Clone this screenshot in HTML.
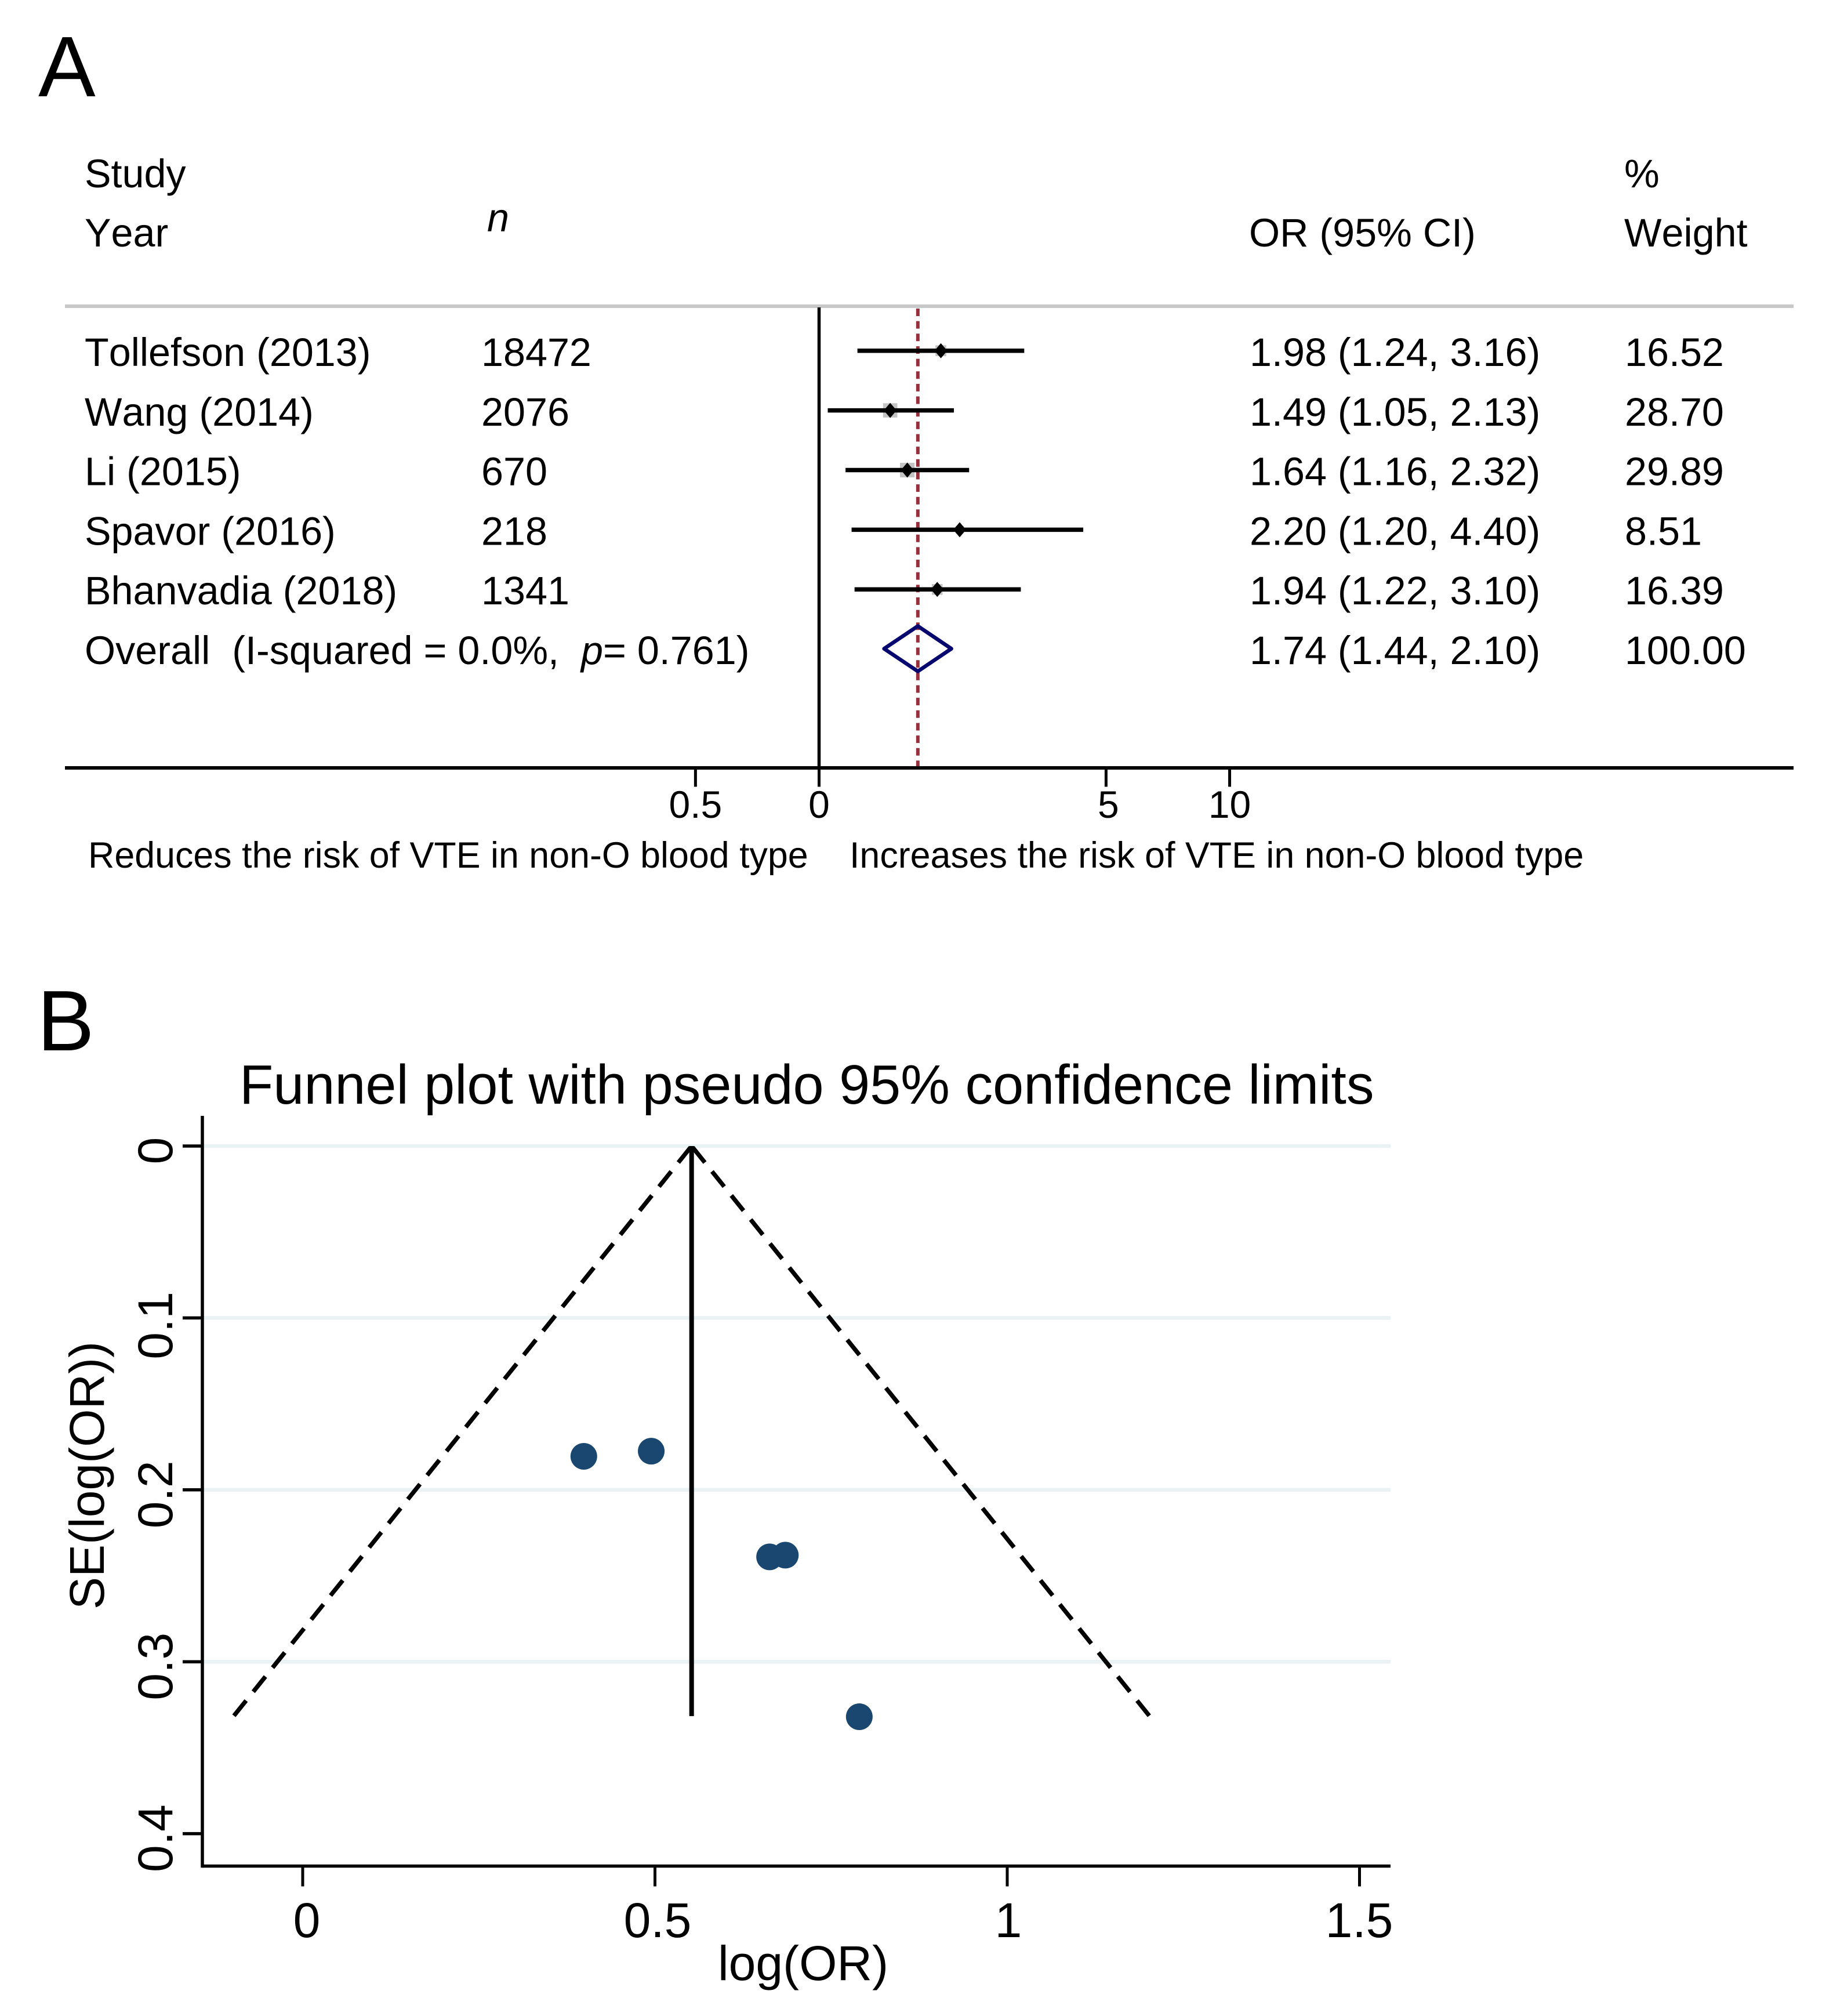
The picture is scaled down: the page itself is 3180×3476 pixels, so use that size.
<!DOCTYPE html>
<html lang="en">
<head>
<meta charset="utf-8">
<title>Forest and funnel plots</title>
<style>
  html, body { margin: 0; padding: 0; background: #ffffff; }
  svg { display: block; }
  text { font-family: "Liberation Sans", Arial, sans-serif; fill: #000000; white-space: pre; font-kerning: none; }
  .f68 { font-size: 68.3px; }
  .f62 { font-size: 62.75px; }
  .f66 { font-size: 66px; }
  .panel { font-size: 148px; }
  .big { font-size: 84px; }
</style>
</head>
<body>
<svg id="figure" xmlns="http://www.w3.org/2000/svg" width="3180" height="3476" viewBox="0 0 3180 3476">
  <rect x="0" y="0" width="3180" height="3476" fill="#ffffff"/>

  <text class="panel" x="66" y="166">A</text>
  <text class="panel" x="64" y="1811">B</text>

  <!-- Forest plot static furniture -->
  <text class="f68" x="146" y="323">Study</text>
  <text class="f68" x="146" y="425">Year</text>
  <text class="f68" x="840" y="399" font-style="italic">n</text>
  <text class="f68" x="2154" y="425">OR (95% CI)</text>
  <text class="f68" x="2801" y="323">%</text>
  <text class="f68" x="2801" y="425">Weight</text>
  <rect x="112" y="525" width="2981" height="6" fill="#c8c8c8"/>
  <text class="f68" x="146" y="1145">Overall  (I-squared = 0.0%,  <tspan font-style="italic">p</tspan>= 0.761)</text>
  <text class="f62" x="152" y="1496">Reduces the risk of VTE in non-O blood type</text>
  <text class="f62" x="1465" y="1496">Increases the risk of VTE in non-O blood type</text>

  <g id="forest"></g>

  <!-- Funnel plot static furniture -->
  <text x="413" y="1903" font-size="95.4">Funnel plot with pseudo 95% confidence limits</text>
  <text class="big" x="1238" y="3414">log(OR)</text>
  <text class="big" transform="translate(179,2775) rotate(-90)">SE(log(OR))</text>

  <g id="funnel"></g>
</svg>

<script>
// ---- Forest plot data ----
const studies = ["Tollefson (2013)", "Wang (2014)", "Li (2015)", "Spavor (2016)", "Bhanvadia (2018)"];
const sampleSizes = [18472, 2076, 670, 218, 1341];
const oddsRatios = [1.98, 1.49, 1.64, 2.20, 1.94];
const ciLower = [1.24, 1.05, 1.16, 1.20, 1.22];
const ciUpper = [3.16, 2.13, 2.32, 4.40, 3.10];
const weights = ["16.52", "28.70", "29.89", "8.51", "16.39"];
const overallOR = 1.74;
const overallLower = 1.44;
const overallUpper = 2.10;
const overallWeight = "100.00";
const forestTicks = [0.5, 1, 5, 10];
const forestTickLabels = ["0.5", "0", "5", "10"];

// ---- Funnel plot data ----
const funnelLogOR = [0.399, 0.4947, 0.6627, 0.685, 0.79];
const funnelSE = [0.1805, 0.1775, 0.239, 0.238, 0.332];
const pooledLogOR = 0.552;
const maxSE = 0.3316;
const zCritical = 1.96;
const funnelXTicks = [0, 0.5, 1, 1.5];
const funnelXTickLabels = ["0", "0.5", "1", "1.5"];
const funnelYTicks = [0, 0.1, 0.2, 0.3, 0.4];
const funnelYTickLabels = ["0", "0.1", "0.2", "0.3", "0.4"];

const SVGNS = "http://www.w3.org/2000/svg";
function make(parent, tag, attrs, content) {
  const el = document.createElementNS(SVGNS, tag);
  for (const k in attrs) el.setAttribute(k, attrs[k]);
  if (content !== undefined) el.textContent = content;
  parent.appendChild(el);
  return el;
}

// ---- Forest plot ----
const forest = document.getElementById("forest");
const forestX = v => 1412.5 + 307.5 * Math.log(v);
const rowY = i => 604.7 + 102.9 * i;
const rowBaseline = i => 631 + 102.8 * i;
const forestAxisY = 1324;

const refLine = make(forest, "line", { x1: forestX(overallOR), x2: forestX(overallOR), y1: 532, y2: forestAxisY, stroke: "#96303c", "stroke-width": 6, "stroke-dasharray": "13 8.65" });



const nullLine = make(forest, "line", { x1: forestX(1), x2: forestX(1), y1: 530, y2: forestAxisY, stroke: "#000000", "stroke-width": 5.5 });



const forestAxis = make(forest, "line", { x1: 112, x2: 3093, y1: forestAxisY, y2: forestAxisY, stroke: "#000000", "stroke-width": 6 });



forestTicks.forEach((t, i) => {
  const tick = make(forest, "line", { x1: forestX(t), x2: forestX(t), y1: forestAxisY, y2: 1356.5, stroke: "#000000", "stroke-width": 5 });
  
  
  const label = make(forest, "text", { x: forestX(t) + (t === 5 ? 4 : 0), y: 1410, "text-anchor": "middle", class: "f66" }, forestTickLabels[i]);
  
  
});

studies.forEach((name, i) => {
  const base = rowBaseline(i);
  const y = rowY(i);
  const nameText = make(forest, "text", { x: 146, y: base, class: "f68" }, name);
  
  
  const nText = make(forest, "text", { x: 830, y: base, class: "f68" }, String(sampleSizes[i]));
  
  
  const orText = make(forest, "text", { x: 2155, y: base, class: "f68" },
    oddsRatios[i].toFixed(2) + " (" + ciLower[i].toFixed(2) + ", " + ciUpper[i].toFixed(2) + ")");
  
  
  const wText = make(forest, "text", { x: 2802, y: base, class: "f68" }, weights[i]);
  
  

  const box = 4.6 * Math.sqrt(parseFloat(weights[i]));
  const boxEl = make(forest, "rect", { x: forestX(oddsRatios[i]) - box / 2, y: y - box / 2, width: box, height: box, fill: "#c4c4c4" });
  
  

  const ci = make(forest, "line", { x1: forestX(ciLower[i]), x2: forestX(ciUpper[i]), y1: y, y2: y, stroke: "#000000", "stroke-width": 7.5 });
  
  

  const px = forestX(oddsRatios[i]);
  const pt = make(forest, "polygon", { points: (px - 11) + "," + y + " " + px + "," + (y - 13) + " " + (px + 11) + "," + y + " " + px + "," + (y + 13), fill: "#000000" });
  
  
});

const overallOrText = make(forest, "text", { x: 2155, y: rowBaseline(5), class: "f68" },
  overallOR.toFixed(2) + " (" + overallLower.toFixed(2) + ", " + overallUpper.toFixed(2) + ")");


const overallWeightText = make(forest, "text", { x: 2802, y: rowBaseline(5), class: "f68" }, overallWeight);



const diamondY = 1118.5;
const diamond = make(forest, "polygon", {
  points: forestX(overallLower) + "," + diamondY + " " + forestX(overallOR) + "," + (diamondY - 39) + " " +
          forestX(overallUpper) + "," + diamondY + " " + forestX(overallOR) + "," + (diamondY + 39),
  fill: "none", stroke: "#06066f", "stroke-width": 6.5, "stroke-linejoin": "round"
});



// ---- Funnel plot ----
const funnel = document.getElementById("funnel");
const funnelX = v => 522 + 1215 * v;
const funnelXLabel = v => 529 + 1210 * v;
const funnelY = v => 1976 + 2964 * v;
const plotLeft = 349;
const plotRight = 2398;
const plotTop = 1924;
const plotBottom = 3217.5;

funnelYTicks.forEach((t, i) => {
  if (t <= 0.3) {
    const grid = make(funnel, "line", { x1: plotLeft, x2: plotRight, y1: funnelY(t), y2: funnelY(t), stroke: "#eaf2f3", "stroke-width": 6.5 });
    
    
  }
  const tick = make(funnel, "line", { x1: 315, x2: plotLeft, y1: funnelY(t), y2: funnelY(t), stroke: "#000000", "stroke-width": 5.5 });
  
  
  const ly = funnelY(t) + (t === 0.1 ? 13 : 8);
  const label = make(funnel, "text", { transform: "translate(297," + ly + ") rotate(-90)", "text-anchor": "middle", class: "big" }, funnelYTickLabels[i]);
  
  
});

const yAxis = make(funnel, "line", { x1: plotLeft, x2: plotLeft, y1: plotTop, y2: plotBottom + 2.75, stroke: "#000000", "stroke-width": 5.5 });


const xAxis = make(funnel, "line", { x1: plotLeft, x2: plotRight, y1: plotBottom, y2: plotBottom, stroke: "#000000", "stroke-width": 5.5 });



funnelXTicks.forEach((t, i) => {
  const tick = make(funnel, "line", { x1: funnelX(t), x2: funnelX(t), y1: plotBottom, y2: 3252.5, stroke: "#000000", "stroke-width": 5 });
  
  
  const label = make(funnel, "text", { x: funnelXLabel(t), y: 3340, "text-anchor": "middle", class: "big" }, funnelXTickLabels[i]);
  
  
});

const limitLeft = make(funnel, "line", {
  x1: funnelX(pooledLogOR), y1: funnelY(0),
  x2: funnelX(pooledLogOR - zCritical * maxSE), y2: funnelY(maxSE),
  stroke: "#000000", "stroke-width": 7.5, "stroke-dasharray": "33.5 19.7", "stroke-dashoffset": -3
});



const limitRight = make(funnel, "line", {
  x1: funnelX(pooledLogOR), y1: funnelY(0),
  x2: funnelX(pooledLogOR + zCritical * maxSE), y2: funnelY(maxSE),
  stroke: "#000000", "stroke-width": 7.5, "stroke-dasharray": "33.5 19.7", "stroke-dashoffset": -3
});



const pooledLine = make(funnel, "line", {
  x1: funnelX(pooledLogOR), y1: funnelY(0),
  x2: funnelX(pooledLogOR), y2: funnelY(maxSE),
  stroke: "#000000", "stroke-width": 8
});



funnelLogOR.forEach((v, i) => {
  const dot = make(funnel, "circle", { cx: funnelX(v), cy: funnelY(funnelSE[i]), r: 23, fill: "#1a476f" });
  
  
});
</script>
</body>
</html>
